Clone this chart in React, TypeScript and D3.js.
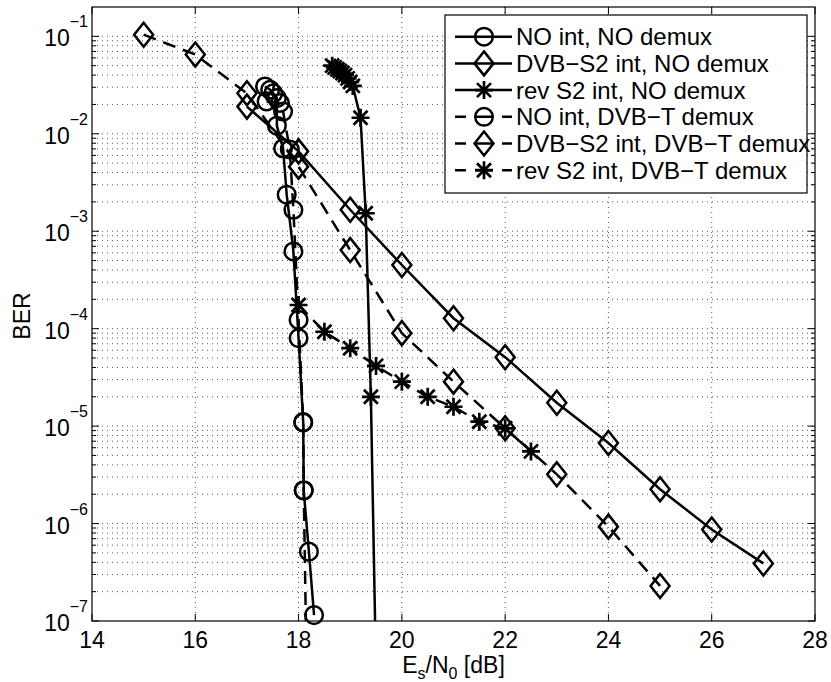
import React from 'react';
import * as d3 from 'd3';

const W = 831, H = 682;
const L = 92, R = 815, T = 7, B = 621;

const xTicks = [14, 16, 18, 20, 22, 24, 26, 28];
const yExps = [-7, -6, -5, -4, -3, -2, -1];

// NO int, NO demux (solid, circle)
const s1X = [17.35, 17.45, 17.51, 17.58, 17.58, 17.7, 17.77, 17.9, 18.0, 18.09, 18.1, 18.2, 18.3];
const s1Y = [0.0306, 0.0283, 0.026, 0.0232, 0.0121, 0.0071, 0.00237, 6.2e-4, 8e-5, 1.09e-5, 2.18e-6, 5.15e-7, 1.15e-7];
// DVB-S2 int, NO demux (solid, diamond)
const s2X = [17, 18, 19, 20, 21, 22, 23, 24, 25, 26, 27];
const s2Y = [0.019, 0.0066, 0.00166, 4.5e-4, 1.28e-4, 5.1e-5, 1.74e-5, 6.7e-6, 2.25e-6, 8.7e-7, 3.9e-7];
// rev S2 int, NO demux (solid, star)
const s3X = [18.65, 18.7, 18.75, 18.8, 18.85, 18.9, 18.95, 19.0, 19.05, 19.2, 19.3, 19.4, 19.5];
const s3Y = [0.05, 0.048, 0.046, 0.044, 0.042, 0.04, 0.037, 0.034, 0.031, 0.0146, 0.00153, 2.0e-5, 3e-8];
// NO int, DVB-T demux (dashed, circle)
const s4X = [17.38, 17.64, 17.7, 17.83, 17.9, 18.0, 18.09, 18.1, 18.15];
const s4Y = [0.0215, 0.0207, 0.0169, 0.0069, 0.00166, 1.23e-4, 1.1e-5, 2.2e-6, 5e-8];
// DVB-S2 int, DVB-T demux (dashed, diamond)
const s5X = [15, 16, 17, 18, 19, 20, 21, 22, 23, 24, 25];
const s5Y = [0.104, 0.065, 0.026, 0.0046, 6.4e-4, 9.0e-5, 2.86e-5, 9.5e-6, 3.2e-6, 9.3e-7, 2.29e-7];
// rev S2 int, DVB-T demux (dashed, star)
const s6X = [18.0, 18.5, 19.0, 19.5, 20.0, 20.5, 21.0, 21.5, 22.0, 22.5];
const s6Y = [1.75e-4, 9.3e-5, 6.3e-5, 4.15e-5, 2.86e-5, 2.0e-5, 1.58e-5, 1.11e-5, 9.5e-6, 5.5e-6];

const legendLabels = [
  'NO int, NO demux',
  'DVB\u2212S2 int, NO demux',
  'rev S2 int, NO demux',
  'NO int, DVB\u2212T demux',
  'DVB\u2212S2 int, DVB\u2212T demux',
  'rev S2 int, DVB\u2212T demux',
];

const seriesList = [
  { x: s1X, y: s1Y, dashed: false, marker: 'o' },
  { x: s2X, y: s2Y, dashed: false, marker: 'd' },
  { x: s3X, y: s3Y, dashed: false, marker: '*' },
  { x: s4X, y: s4Y, dashed: true, marker: 'o' },
  { x: s5X, y: s5Y, dashed: true, marker: 'd' },
  { x: s6X, y: s6Y, dashed: true, marker: '*' },
];

const xScale = d3.scaleLinear().domain([14, 28]).range([L, R]);
const yScale = d3.scaleLog().domain([1e-7, 0.2]).range([B, T]);

const LW = 2.5;
const DASH = '13 8';
const FONT = '"Liberation Sans", Arial, Helvetica, sans-serif';

function Marker({ type, cx, cy }: { type: string; cx: number; cy: number }) {
  if (type === 'o') {
    return <circle cx={cx} cy={cy} r={8.8} fill="none" stroke="#000" strokeWidth={LW} />;
  }
  if (type === 'd') {
    const hw = 9.5, hh = 12;
    return (
      <path
        d={`M${cx},${cy - hh}L${cx + hw},${cy}L${cx},${cy + hh}L${cx - hw},${cy}Z`}
        fill="none"
        stroke="#000"
        strokeWidth={LW}
        strokeLinejoin="miter"
      />
    );
  }
  const r = 9, rd = 7;
  return (
    <path
      d={`M${cx - r},${cy}L${cx + r},${cy}M${cx},${cy - r}L${cx},${cy + r}M${cx - rd},${cy - rd}L${cx + rd},${cy + rd}M${cx - rd},${cy + rd}L${cx + rd},${cy - rd}`}
      fill="none"
      stroke="#000"
      strokeWidth={2.7}
    />
  );
}

export default function App() {
  const line = d3
    .line<[number, number]>()
    .x((d) => xScale(d[0]))
    .y((d) => yScale(d[1]));

  const minorY: number[] = [];
  yExps.forEach((e) => {
    for (let k = 2; k <= 9; k++) {
      const v = k * Math.pow(10, e);
      if (v < 0.2) minorY.push(v);
    }
  });
  const majorY = yExps.map((e) => Math.pow(10, e));

  const legX0 = 445, legY0 = 15, legW = 362, legH = 178;
  const rowY = (i: number) => 36.7 + i * 26.7;

  return (
    <svg
      width={W}
      height={H}
      style={{ position: 'absolute', left: 0, top: 0, background: '#fff' }}
      fontFamily={FONT}
    >
      <rect x={0} y={0} width={W} height={H} fill="#fff" />
      <defs>
        <clipPath id="plotclip">
          <rect x={L} y={T} width={R - L} height={B - T} />
        </clipPath>
      </defs>

      {/* grid */}
      <g stroke="#444" strokeWidth={0.9} strokeDasharray="1 4" fill="none">
        {xTicks.slice(1, -1).map((t) => (
          <line key={'gx' + t} x1={xScale(t)} x2={xScale(t)} y1={T} y2={B} />
        ))}
        {majorY.slice(1).map((v) => (
          <line key={'gy' + v} x1={L} x2={R} y1={yScale(v)} y2={yScale(v)} />
        ))}
        {minorY.map((v) => (
          <line key={'gmy' + v} x1={L} x2={R} y1={yScale(v)} y2={yScale(v)} />
        ))}
      </g>

      {/* ticks */}
      <g stroke="#000" strokeWidth={1}>
        {xTicks.map((t) => (
          <g key={'tx' + t}>
            <line x1={xScale(t)} x2={xScale(t)} y1={B} y2={B - 7} />
            <line x1={xScale(t)} x2={xScale(t)} y1={T} y2={T + 7} />
          </g>
        ))}
        {majorY.map((v) => (
          <g key={'ty' + v}>
            <line x1={L} x2={L + 7} y1={yScale(v)} y2={yScale(v)} />
            <line x1={R} x2={R - 7} y1={yScale(v)} y2={yScale(v)} />
          </g>
        ))}
        {minorY.map((v) => (
          <g key={'tmy' + v}>
            <line x1={L} x2={L + 4} y1={yScale(v)} y2={yScale(v)} />
            <line x1={R} x2={R - 4} y1={yScale(v)} y2={yScale(v)} />
          </g>
        ))}
      </g>

      {/* data lines */}
      <g clipPath="url(#plotclip)">
        {seriesList.map((s, i) => (
          <path
            key={'ln' + i}
            d={line(s.x.map((xv, j) => [xv, s.y[j]] as [number, number])) || ''}
            fill="none"
            stroke="#000"
            strokeWidth={LW}
            strokeDasharray={s.dashed ? DASH : undefined}
          />
        ))}
      </g>
      {/* markers */}
      <g>
        {seriesList.map((s, i) =>
          s.x.map((xv, j) =>
            s.y[j] >= 1e-7 && s.y[j] <= 0.2 ? (
              <Marker key={'m' + i + '-' + j} type={s.marker} cx={xScale(xv)} cy={yScale(s.y[j])} />
            ) : null
          )
        )}
      </g>

      {/* axes box */}
      <rect x={L} y={T} width={R - L} height={B - T} fill="none" stroke="#000" strokeWidth={1.2} />

      {/* x tick labels */}
      <g fontSize={23} textAnchor="middle" fill="#000">
        {xTicks.map((t) => (
          <text key={'xl' + t} x={xScale(t)} y={648}>
            {t}
          </text>
        ))}
      </g>
      {/* y tick labels */}
      <g fontSize={23} textAnchor="end" fill="#000">
        {yExps.map((e) => (
          <text key={'yl' + e} x={88} y={yScale(Math.pow(10, e)) + 10}>
            10
            <tspan fontSize={16} dy={-19}>
              {'\u2212' + Math.abs(e)}
            </tspan>
          </text>
        ))}
      </g>

      {/* axis labels */}
      <text x={453.5} y={673} fontSize={23} textAnchor="middle" fill="#000">
        E<tspan fontSize={16} dy={6}>s</tspan>
        <tspan dy={-6}>/N</tspan>
        <tspan fontSize={16} dy={6}>0</tspan>
        <tspan dy={-6}> [dB]</tspan>
      </text>
      <text transform="translate(30,316) rotate(-90)" fontSize={23} textAnchor="middle" fill="#000">
        BER
      </text>

      {/* legend */}
      <rect x={legX0} y={legY0} width={legW} height={legH} fill="#fff" stroke="#000" strokeWidth={1.2} />
      {seriesList.map((s, i) => (
        <g key={'lg' + i}>
          <line
            x1={455}
            x2={512}
            y1={rowY(i)}
            y2={rowY(i)}
            stroke="#000"
            strokeWidth={LW}
            strokeDasharray={s.dashed ? '11 9 18 9 10' : undefined}
          />
          <Marker type={s.marker} cx={484} cy={rowY(i)} />
          <text x={516} y={rowY(i) + 8.5} fontSize={24} fill="#000">
            {legendLabels[i]}
          </text>
        </g>
      ))}
    </svg>
  );
}
